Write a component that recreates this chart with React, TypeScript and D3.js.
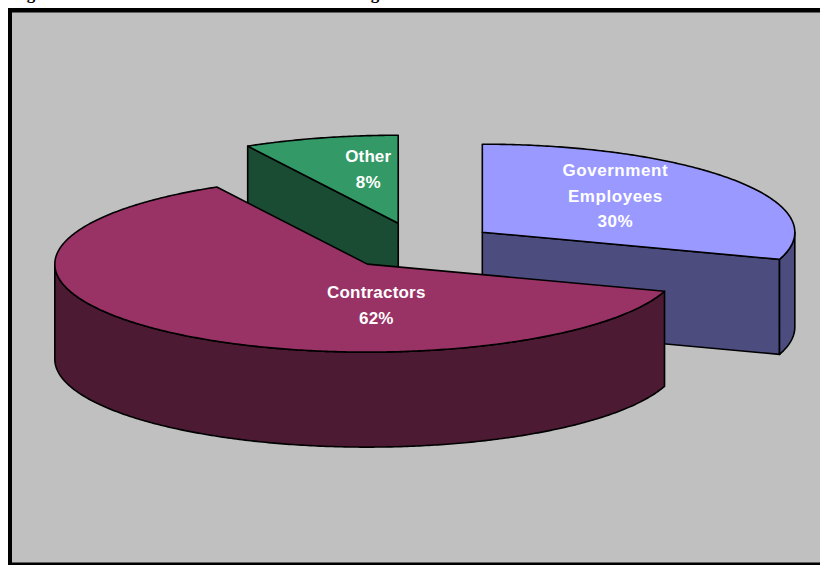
import React from "react";
import * as d3 from "d3";

// Workforce shares, clockwise from twelve o'clock
const categories = ["Government Employees", "Contractors", "Other"];
const shares = [30, 62, 8];
const topColors = ["#9999FF", "#993366", "#339966"];
const wallColors = ["#4C4C7F", "#4C1A33", "#1A4C33"];

// Lines of each slice label
const labelLines = [["Government", "Employees", "30%"], ["Contractors", "62%"], ["Other", "8%"]];

const WIDTH = 820;
const HEIGHT = 565;
const CENTER_X = 418;
const CENTER_Y = 246;
const RX = 312.5;
const RY = 88;
const DEPTH = 95;
const EXPLODE_X = 79.5;
const EXPLODE_Y = 23.5;

// Centre of a label's first line relative to the slice's exploded apex
const labelOffsets: [number, number][] = [[133, -62], [9, 28], [-30, -67]];
const labelTracking = [0.55, 0.2, 0.1];
const LINE_STEP = 25.4;

type Pt = [number, number];
const lineGen = d3.line<Pt>();

const pieGen = d3.pie<number>().sort(null).value((d) => d);
const slices = pieGen(shares);

function apexOf(start: number, end: number): Pt {
  const mid = (start + end) / 2;
  return [CENTER_X + EXPLODE_X * Math.sin(mid), CENTER_Y - EXPLODE_Y * Math.cos(mid)];
}

function rimPoint(apex: Pt, a: number, drop = 0): Pt {
  return [apex[0] + RX * Math.sin(a), apex[1] - RY * Math.cos(a) + drop];
}

function rimPoints(apex: Pt, from: number, to: number, drop = 0): Pt[] {
  const n = Math.max(2, Math.ceil(Math.abs(to - from) / 0.01));
  return d3.range(n + 1).map((i) => rimPoint(apex, from + ((to - from) * i) / n, drop));
}

export default function App() {
  const marks = slices.map((s, i) => {
    const apex = apexOf(s.startAngle, s.endAngle);
    const top = lineGen([apex, ...rimPoints(apex, s.startAngle, s.endAngle)]) + "Z";
    const walls: string[] = [];

    // Radial cut faces that turn towards the viewer
    if (Math.sin(s.startAngle) < 0) {
      const e = rimPoint(apex, s.startAngle);
      walls.push(lineGen([apex, e, [e[0], e[1] + DEPTH], [apex[0], apex[1] + DEPTH]]) + "Z");
    }
    if (Math.sin(s.endAngle) > 0) {
      const e = rimPoint(apex, s.endAngle);
      walls.push(lineGen([apex, e, [e[0], e[1] + DEPTH], [apex[0], apex[1] + DEPTH]]) + "Z");
    }

    // Curved rim: only the front half of the ellipse is visible
    const from = Math.max(s.startAngle, Math.PI / 2);
    const to = Math.min(s.endAngle, (3 * Math.PI) / 2);
    if (to > from) {
      const upper = rimPoints(apex, from, to);
      const lower = rimPoints(apex, to, from, DEPTH);
      walls.push(lineGen([...upper, ...lower]) + "Z");
    }
    return { i, apex, top, walls };
  });

  // Paint back to front: the large slice overlaps the other two
  const order = [0, 2, 1];

  return (
    <svg
      width={WIDTH}
      height={HEIGHT}
      viewBox={`0 0 ${WIDTH} ${HEIGHT}`}
      style={{ position: "absolute", left: 0, top: 0, display: "block", background: "#fff" }}
    >
      {/* Caption descenders running off the top of the page */}
      <g fontFamily="Liberation Serif" fontWeight="bold" fontSize={17} fill="#000">
        <text x={31} y={-1} textAnchor="middle">g</text>
        <text x={375} y={-1} textAnchor="middle">g</text>
      </g>

      <rect x={8} y={8} width={812} height={557} fill="#000" />
      <rect x={12} y={12.5} width={808} height={550} fill="#C0C0C0" />

      {order.map((k) => {
        const m = marks[k];
        return (
          <g key={categories[k]} stroke="#000" strokeWidth={1.6} strokeLinejoin="round">
            {m.walls.map((d, j) => (
              <path key={j} d={d} fill={wallColors[k]} />
            ))}
            <path d={m.top} fill={topColors[k]} />
          </g>
        );
      })}

      <g
        fontFamily="Liberation Sans"
        fontWeight="bold"
        fontSize={17}
        fill="#fff"
        textAnchor="middle"
      >
        {marks.map((m) =>
          labelLines[m.i].map((line, j) => (
            <text
              key={line}
              x={m.apex[0] + labelOffsets[m.i][0]}
              y={m.apex[1] + labelOffsets[m.i][1] + j * LINE_STEP + 6}
              letterSpacing={labelTracking[m.i]}
            >
              {line}
            </text>
          ))
        )}
      </g>
    </svg>
  );
}
